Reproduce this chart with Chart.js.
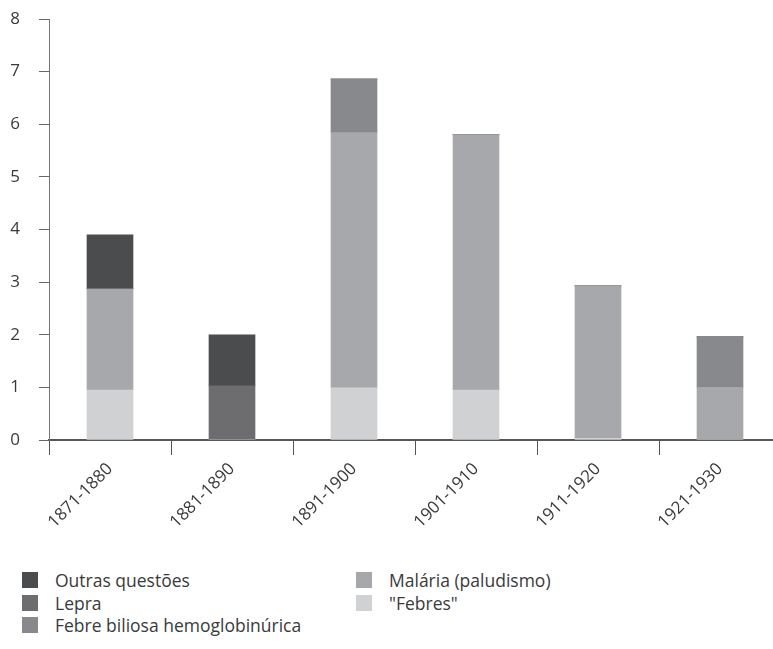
<!DOCTYPE html>
<html>
<head>
<meta charset="utf-8">
<script src="https://cdn.jsdelivr.net/npm/chart.js@4"></script>
<style>
  body { margin: 0; overflow: hidden; background: #fff; font-family: "Open Sans", sans-serif; }
  #wrap { position: relative; width: 785px; height: 649px; }
  #legenda {
    position: absolute; left: 22px; top: 569px;
    display: grid; grid-template-rows: repeat(3, 22.5px); grid-auto-flow: column;
    grid-template-columns: 334px 334px;
    font-size: 17.5px; color: #3a3a3a;
  }
  .item { display: flex; align-items: center; }
  .caixa { width: 16px; height: 16px; margin-right: 17px; flex: none; }
</style>
</head>
<body>
<div id="wrap">
  <canvas id="grafico" width="785" height="550"></canvas>
  <div id="legenda"></div>
</div>
<script>
// Décadas
const decadas = ["1871-1880", "1881-1890", "1891-1900", "1901-1910", "1911-1920", "1921-1930"];

// Valores por causa
const febres = [0.95, 0, 0.99, 0.95, 0.03, 0];
const malaria = [1.92, 0, 4.85, 4.85, 2.9, 1.0];
const febreBiliosa = [0, 0, 1.02, 0, 0, 0.96];
const lepra = [0, 1.03, 0, 0, 0, 0];
const outras = [1.03, 0.97, 0, 0, 0, 0];

const ticksY = [0, 1, 2, 3, 4, 5, 6, 7, 8];

// Ordem em que aparecem na legenda (coluna a coluna)
const ordemLegenda = ["Outras questões", "Lepra", "Febre biliosa hemoglobinúrica", "Malária (paludismo)", "\"Febres\""];

const corTexto = '#3a3a3a';
const fonte = { family: '"Open Sans", sans-serif', size: 17 };

const datasets = [
  { label: '"Febres"', data: febres, backgroundColor: '#d0d1d3' },
  { label: 'Malária (paludismo)', data: malaria, backgroundColor: '#a7a8ab' },
  { label: 'Febre biliosa hemoglobinúrica', data: febreBiliosa, backgroundColor: '#88898c' },
  { label: 'Lepra', data: lepra, backgroundColor: '#6d6d6f' },
  { label: 'Outras questões', data: outras, backgroundColor: '#4b4c4e' }
];

const grafico = new Chart(document.getElementById("grafico"), {
  type: 'bar',
  data: {
    labels: decadas,
    datasets: datasets.map(d => Object.assign({ barThickness: 46, borderWidth: 0 }, d))
  },
  options: {
    responsive: false,
    animation: false,
    layout: { padding: { top: 19, right: 4, left: 0, bottom: 0 } },
    plugins: { legend: { display: false }, tooltip: { enabled: false } },
    scales: {
      x: {
        stacked: true,
        afterFit: function (s) { s.height = 110; s.paddingTop = 0; s.paddingBottom = 0; },
        grid: { display: true, drawOnChartArea: false, drawTicks: true, tickLength: 15, color: '#555', offset: true },
        border: { display: true, color: '#555', width: 2 },
        ticks: { color: corTexto, font: fonte, maxRotation: 45, minRotation: 45, padding: 4 }
      },
      y: {
        stacked: true,
        min: 0,
        max: 8,
        afterFit: function (s) { s.width = 49; s.paddingTop = 0; s.paddingBottom = 0; },
        afterBuildTicks: function (s) { s.ticks = ticksY.map(v => ({ value: v })); },
        grid: { display: true, drawOnChartArea: false, drawTicks: true, tickLength: 10, color: '#666' },
        border: { display: true, color: '#777', width: 1 },
        ticks: { color: corTexto, font: fonte, padding: 19 }
      }
    }
  }
});

// Legenda em duas colunas, construída a partir dos datasets
const legenda = document.getElementById("legenda");
ordemLegenda.forEach(function (nome) {
  const ds = grafico.data.datasets.find(d => d.label === nome);
  const item = document.createElement("div");
  item.className = "item";
  const caixa = document.createElement("span");
  caixa.className = "caixa";
  caixa.style.background = ds.backgroundColor;
  const texto = document.createElement("span");
  texto.textContent = ds.label;
  item.appendChild(caixa);
  item.appendChild(texto);
  legenda.appendChild(item);
});
</script>
</body>
</html>
